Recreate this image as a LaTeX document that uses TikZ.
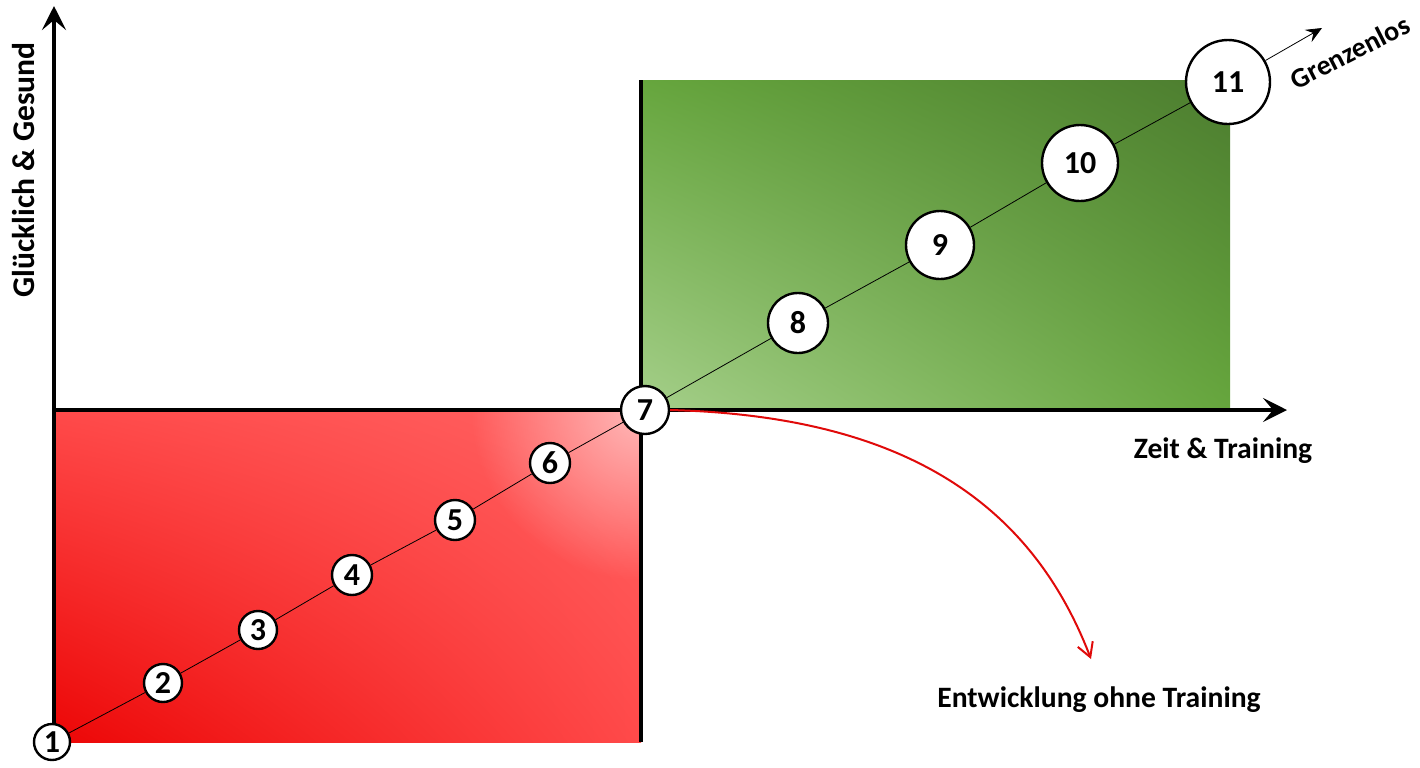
\documentclass[tikz,border=0pt]{standalone}
\usepackage{fontspec}
\setmainfont{Carlito}
\usetikzlibrary{arrows.meta,shadings,fadings}
\definecolor{redlow}{HTML}{EC0606}
\definecolor{redmid}{HTML}{FF4A4A}
\definecolor{redupper}{HTML}{FF6262}
\definecolor{redhigh}{HTML}{FFB8B8}
\definecolor{greenlow}{HTML}{A5CF8A}
\definecolor{greenmid}{HTML}{66A63D}
\definecolor{greenhigh}{HTML}{4C7C2F}
\definecolor{falldown}{HTML}{E00A0A}
\tikzfading[name=glowfade, inner color=transparent!0, outer color=transparent!100]
\begin{document}
\begin{tikzpicture}[x=0.5pt, y=-0.5pt]

      \tikzset{enclosed/.style={draw, circle, line width=1.2pt, fill=white, inner sep=0pt, font=\bfseries\fontsize{16}{16}\selectfont},
               axisline/.style={line width=2.4pt, -{Stealth[length=12pt, width=12pt, inset=5pt]}},
               axislabel/.style={font=\bfseries\fontsize{14.8}{16}\selectfont}}
      \useasboundingbox (0,0) rectangle (1420,767);

%% Areas
      \shade[lower left=redlow, lower right=redmid, upper left=redmid, upper right=redupper] (54,410) rectangle (641,742);
      \begin{scope}
        \clip (54,410) rectangle (641,742);
        \fill[redhigh, path fading=glowfade] (641,410) circle (170);
      \end{scope}
      \shade[lower left=greenlow, lower right=greenmid, upper left=greenmid, upper right=greenhigh] (641,80) rectangle (1230,410);

%% Axes
      \coordinate (o) at (54,742);
      \coordinate (ytip) at (54,6);
      \coordinate (xstart) at (54,410);
      \coordinate (xtip) at (1287,410);
      \coordinate (mtop) at (641,80);
      \coordinate (mbot) at (641,742);
      \draw[axisline] (o) -- (ytip);
      \draw[axisline] (xstart) -- (xtip);
      \draw[line width=2.4pt] (mtop) -- (mbot);
      \node[axislabel, font=\bfseries\fontsize{15.8}{16}\selectfont, rotate=90] (ylab) at (24,170) {Glücklich \& Gesund};
      \node[axislabel] (xlab) at (1223,451) {Zeit \& Training};

%% Vertices
      	\node[enclosed, minimum size=18pt] (v1) at (52,742) {1};
      	\node[enclosed, minimum size=19pt] (v2) at (163,683) {2};
      	\node[enclosed, minimum size=19pt] (v3) at (258,630) {3};
      	\node[enclosed, minimum size=20pt] (v4) at (352,575) {4};
      	\node[enclosed, minimum size=20pt] (v5) at (455,520) {5};
      	\node[enclosed, minimum size=20pt] (v6) at (550,463) {6};
      	\node[enclosed, minimum size=24pt] (v7) at (645,410) {7};
      	\node[enclosed, minimum size=30pt] (v8) at (798,323) {8};
      	\node[enclosed, minimum size=34pt] (v9) at (940,245) {9};
      	\node[enclosed, minimum size=38pt] (v10) at (1080,163) {10};
      	\node[enclosed, minimum size=42pt] (v11) at (1228,82) {11};
      	\coordinate (up) at (1322,28);
      	\coordinate (down) at (1091,659);
      	\node[axislabel, font=\bfseries\fontsize{14}{14}\selectfont, rotate=27] (grenz) at (1350,52) {Grenzenlos};
      	\node[axislabel] (ohne) at (1099,700) {Entwicklung ohne Training};

%Edges
		\path (v1) edge (v2);
		\path (v2) edge (v3);
		\path (v3) edge (v4);
		\path (v4) edge (v5);
		\path (v5) edge (v6);
		\path (v6) edge (v7);
		\path (v7) edge (v8);
		\path (v8) edge (v9);
		\path (v9) edge (v10);
		\path (v10) edge (v11);
		\path (v11) edge[-{Stealth[length=8pt, width=7pt, inset=3pt]}] (up);
		\draw[falldown, line width=1pt, -{Straight Barb[length=7pt, width=8pt]}] (v7.east) .. controls (900,416) and (1030,500) .. (down);
	\end{tikzpicture}
\end{document}
